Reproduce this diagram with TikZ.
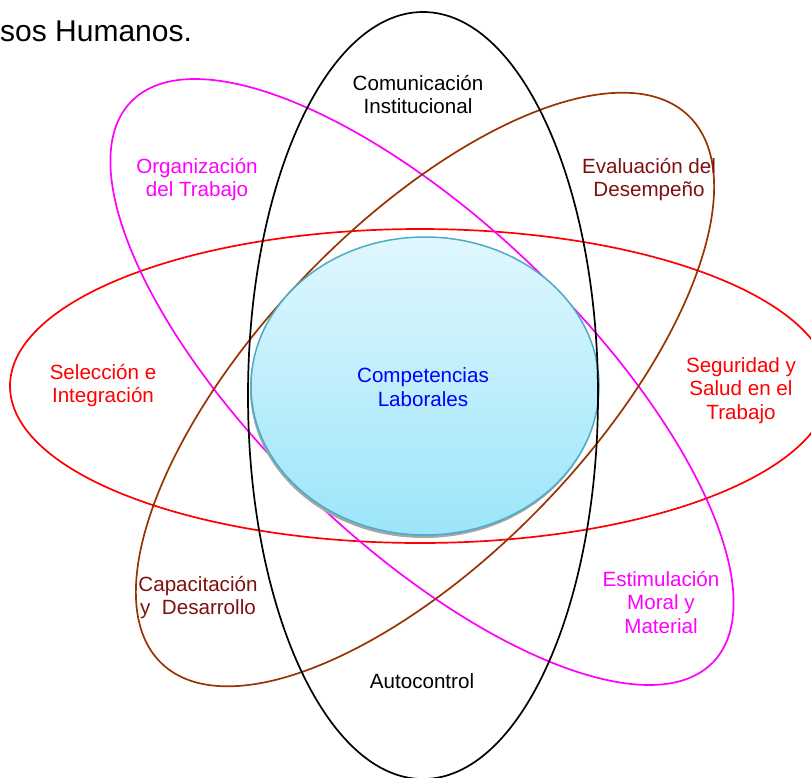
\documentclass[tikz,border=0pt]{standalone}
\usepackage{fontspec}
\setmainfont{Liberation Sans}
\definecolor{mag}{HTML}{FF00FF}
\definecolor{brn}{HTML}{993300}
\definecolor{dred}{HTML}{7F1010}
\definecolor{cyb}{HTML}{4BACC6}
\definecolor{cyt}{HTML}{E0F7FD}
\definecolor{cyd}{HTML}{9CE5FA}
\begin{document}
\begin{tikzpicture}[x=1pt,y=-1pt,
  lbl/.style={font=\fontsize{20.6}{23.7}\selectfont, align=center, anchor=base, inner sep=0pt},
  orbit/.style={line width=1.7pt}]
\useasboundingbox (0,0) rectangle (811,777);
\clip (0,0) rectangle (811,777);
% red horizontal ellipse
\draw[orbit, red] (420,386) ellipse [x radius=410pt, y radius=157pt];
% magenta orbit
\draw[orbit, mag, shift={(422,382)}, rotate=-43.9] (0,0) ellipse [x radius=404pt, y radius=160pt];
% brown orbit
\draw[orbit, brn, shift={(425,389.5)}, rotate=46.1] (0,0) ellipse [x radius=380pt, y radius=165pt];
% central ellipse
\fill[gray!70] (424,389) ellipse [x radius=174pt, y radius=149pt];
\shade[top color=cyt, bottom color=cyd, draw=cyb, line width=1.5pt]
  (425,386) ellipse [x radius=174pt, y radius=149pt];
% black vertical ellipse
\draw[orbit, black] (423,395.5) ellipse [x radius=175pt, y radius=383.5pt];
% labels
\node[lbl, font=\fontsize{30}{34}\selectfont, anchor=base west] (title) at (0,41.7) {sos Humanos.};
\node[lbl] (com) at (418,113.7) {Comunicación\\Institucional};
\node[lbl, text=mag] (org) at (197,196.7) {Organización\\del Trabajo};
\node[lbl, text=dred] (eva) at (649,196.7) {Evaluación del\\Desempeño};
\node[lbl, text=red] (sel) at (103,402.7) {Selección e\\Integración};
\node[lbl, text=blue] (comp) at (423,406.2) {Competencias\\Laborales};
\node[lbl, text=red] (seg) at (741,419.4) {Seguridad y\\Salud en el\\Trabajo};
\node[lbl, text=dred] (cap) at (198,614.7) {Capacitación\\y\ \ Desarrollo};
\node[lbl, text=mag] (est) at (661,633.4) {Estimulación\\Moral y\\Material};
\node[lbl] (auto) at (422,688) {Autocontrol};
\end{tikzpicture}
\end{document}
